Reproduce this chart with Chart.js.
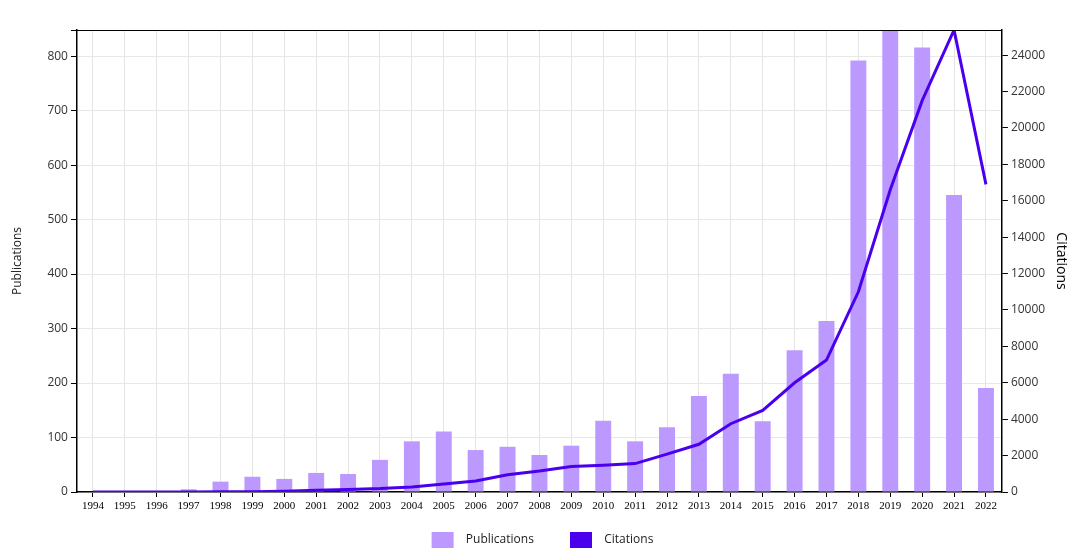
<!DOCTYPE html>
<html>
<head>
<meta charset="utf-8">
<script src="https://cdn.jsdelivr.net/npm/chart.js@4.4.0/dist/chart.umd.min.js"></script>
<style>
  html, body { margin: 0; padding: 0; background: #fff; }
  #wrap { width: 1080px; height: 558px; }
</style>
</head>
<body>
<div id="wrap"><canvas id="pubChart" width="1080" height="558"></canvas></div>
<script>
// ---------------- datos ----------------
const years = ['1994','1995','1996','1997','1998','1999','2000','2001','2002','2003',
  '2004','2005','2006','2007','2008','2009','2010','2011','2012','2013',
  '2014','2015','2016','2017','2018','2019','2020','2021','2022'];

const publications = [1, 0, 0, 5, 19, 28, 24, 35, 33, 59,
  93, 111, 77, 83, 68, 85, 131, 93, 119, 176,
  217, 130, 260, 314, 792, 848, 816, 545, 191];

const citations = [0, 0, 0, 0, 10, 20, 40, 90, 140, 190,
  280, 440, 600, 950, 1150, 1400, 1470, 1560, 2080, 2620,
  3750, 4480, 6000, 7250, 11000, 16600, 21500, 25380, 16900];

const pubTicks = [0, 100, 200, 300, 400, 500, 600, 700, 800];
const citTicks = [0, 2000, 4000, 6000, 8000, 10000, 12000, 14000, 16000, 18000, 20000, 22000, 24000];
const pubMax = 848;
const citMax = 25380;

const barColor = '#bb99ff';
const lineColor = '#4a00ee';
const font = '"Open Sans", "DejaVu Sans", sans-serif';

// borde superior del área de la gráfica
const topBorder = {
  id: 'topBorder',
  afterDraw(chart) {
    const { ctx, chartArea } = chart;
    ctx.save();
    ctx.strokeStyle = '#000';
    ctx.lineWidth = 1;
    ctx.beginPath();
    ctx.moveTo(chartArea.left - 6, chartArea.top + 0.5);
    ctx.lineTo(chartArea.right, chartArea.top + 0.5);
    ctx.stroke();
    ctx.restore();
  }
};

const ctx = document.getElementById('pubChart').getContext('2d');
new Chart(ctx, {
  type: 'bar',
  data: {
    labels: years,
    datasets: [{
      label: 'Publications',
      data: publications,
      backgroundColor: barColor,
      borderWidth: 0,
      barPercentage: 0.5,
      categoryPercentage: 1,
      yAxisID: 'y',
      order: 2
    }, {
      type: 'line',
      label: 'Citations',
      data: citations,
      borderColor: lineColor,
      backgroundColor: lineColor,
      borderWidth: 3,
      pointRadius: 0,
      tension: 0,
      yAxisID: 'y1',
      order: 1
    }]
  },
  options: {
    responsive: false,
    animation: false,
    layout: { padding: { top: 30, left: 6, right: 1, bottom: 0 } },
    plugins: {
      tooltip: { enabled: false },
      legend: {
        position: 'bottom',
        labels: {
          boxWidth: 22,
          boxHeight: 16,
          padding: 5,
          color: '#222',
          font: { family: font, size: 12 },
          sort: (a, b) => a.datasetIndex - b.datasetIndex,
          generateLabels(chart) {
            const items = Chart.defaults.plugins.legend.labels.generateLabels(chart);
            items.forEach(it => {
              // espacio extra entre recuadro, texto y siguiente elemento
              it.text = '\u00a0\u00a0' + it.text + (it.datasetIndex === 0 ? '\u00a0'.repeat(10) : '');
              it.lineWidth = 0;
            });
            return items;
          }
        }
      }
    },
    scales: {
      x: {
        offset: true,
        grid: { offset: false, color: '#e4e4e4', tickColor: '#000', tickLength: 5 },
        border: { color: '#000', width: 1.5 },
        ticks: {
          autoSkip: false, maxRotation: 0, color: '#000', padding: 3,
          font: { family: '"Liberation Serif", serif', size: 11 }
        },
        afterFit(scale) { scale.height = 35; }
      },
      y: {
        position: 'left',
        min: 0,
        max: pubMax,
        grid: { color: '#e8e8e8', tickColor: '#000', tickLength: 6 },
        border: { color: '#000', width: 1.5 },
        ticks: { color: '#333', padding: 3, font: { family: font, size: 12 } },
        afterBuildTicks(scale) { scale.ticks = pubTicks.map(v => ({ value: v })); },
        title: { display: true, text: 'Publications', color: '#222', padding: { bottom: 20 }, font: { family: font, size: 12 } }
      },
      y1: {
        position: 'right',
        min: 0,
        max: citMax,
        grid: { drawOnChartArea: false, tickColor: '#000', tickLength: 6 },
        border: { color: '#000', width: 1.5 },
        ticks: { color: '#333', padding: 3, font: { family: font, size: 12 }, callback: v => String(v) },
        afterBuildTicks(scale) { scale.ticks = citTicks.map(v => ({ value: v })); },
        title: { display: true, text: 'Citations', color: '#000', padding: { top: 10 }, font: { family: font, size: 14 } }
      }
    }
  },
  plugins: [topBorder]
});
</script>
</body>
</html>
